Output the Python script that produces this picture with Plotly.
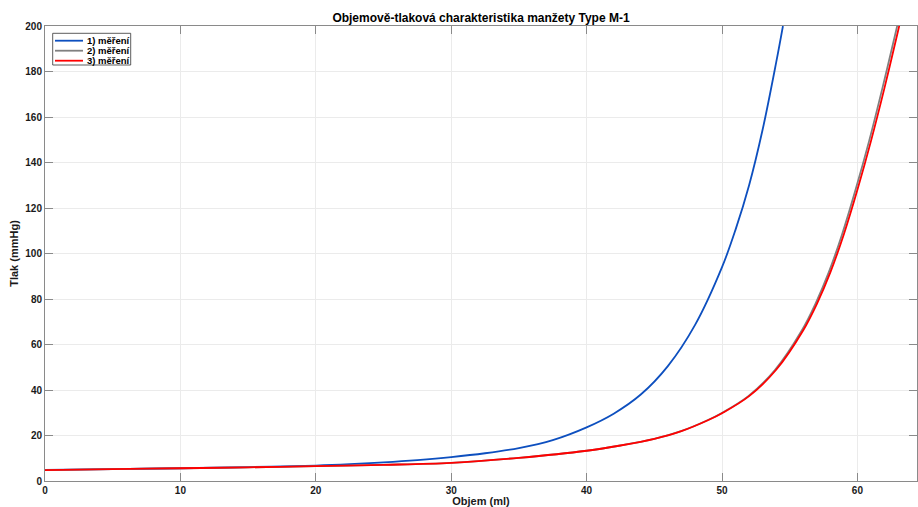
import plotly.graph_objects as go

# ---------------- data ----------------
vol_1 = [0, 5, 10, 15, 20, 22.5, 25, 27.5, 30, 32.5, 35, 37.5, 40, 42, 44, 46, 48, 50, 51, 52, 53, 54, 54.5]
p_1 = [4.9, 5.2, 5.6, 6.1, 6.8, 7.4, 8.2, 9.2, 10.5, 12.2, 14.5, 18.0, 23.6, 29.6, 38.0, 50.5, 68.5, 94.0, 110.5, 130.0, 154.5, 184.0, 200.0]

vol_2 = [0, 5, 10, 15, 20, 25, 30, 35, 40, 42.5, 45, 46.97, 48.96, 49.95, 51.94, 53.92, 55.9, 56.89, 57.88, 58.87, 59.86, 60.86, 61.85, 62.85, 62.95]
p_2 = [4.8, 5.2, 5.6, 6.0, 6.5, 7.1, 8.0, 10.2, 13.3, 15.6, 18.5, 21.9, 26.8, 29.8, 37.3, 48.9, 66.3, 77.8, 91.7, 108.5, 128.0, 149.4, 172.8, 197.8, 200.4]

vol_3 = [0, 5, 10, 15, 20, 25, 30, 35, 40, 42.5, 45, 47, 49, 50, 52, 54, 56, 57, 58, 59, 60, 61, 62, 63, 63.1]
p_3 = [4.8, 5.2, 5.6, 6.0, 6.5, 7.1, 8.0, 10.2, 13.3, 15.6, 18.5, 21.9, 26.8, 29.8, 37.3, 48.9, 66.3, 77.8, 91.7, 108.5, 128.0, 149.4, 172.8, 197.8, 200.4]

series_names = ["1) měření", "2) měření", "3) měření"]
series_colors = ["#0d4fbf", "#808080", "#ff0000"]

title_text = "Objemově-tlaková charakteristika manžety Type M-1"
x_title = "Objem (ml)"
y_title = "Tlak (mmHg)"
x_ticks = [0, 10, 20, 30, 40, 50, 60]
y_ticks = [0, 20, 40, 60, 80, 100, 120, 140, 160, 180, 200]

# ---------------- layout geometry ----------------
W, H = 918, 507
ML, MR, MT, MB = 45, 1, 26, 26
PW, PH = W - ML - MR, H - MT - MB

def fx(px):
    return (px - ML) / PW

def fy(py):
    return (H - MB - py) / PH

FONT = "Liberation Sans, Arial, Helvetica, sans-serif"

fig = go.Figure()
for xs, ys, name, col in zip([vol_1, vol_2, vol_3], [p_1, p_2, p_3], series_names, series_colors):
    fig.add_trace(go.Scatter(
        x=xs, y=ys, mode="lines", name=name, showlegend=False,
        line=dict(color=col, width=1.8, shape="spline", smoothing=1.0),
    ))

axis_common = dict(
    showline=True, linecolor="#8a8a8a", linewidth=1,
    mirror="ticks", ticks="inside", ticklen=8, tickwidth=1, tickcolor="#8a8a8a",
    showgrid=True, gridcolor="#ebebeb", gridwidth=1, zeroline=False,
    tickfont=dict(family=FONT, size=10, color="#1a1a1a", weight="bold"),
)

fig.update_xaxes(range=[0, 64.4], tickvals=x_ticks, **axis_common,
                 title=dict(text=x_title, standoff=2,
                            font=dict(family=FONT, size=11, color="#1a1a1a", weight="bold")))
fig.update_yaxes(range=[0, 200], tickvals=y_ticks, **axis_common,
                 title=dict(text=y_title, standoff=4,
                            font=dict(family=FONT, size=11, color="#1a1a1a", weight="bold")))

# manual legend (compact, as in the reference)
shapes = [dict(type="rect", xref="paper", yref="paper",
               x0=fx(52.7), x1=fx(130.7), y0=fy(65), y1=fy(33.3),
               line=dict(color="#333333", width=0.8), fillcolor="white", layer="above")]
annotations = []
for i, (name, col) in enumerate(zip(series_names, series_colors)):
    yy = 40.7 + 10 * i
    shapes.append(dict(type="line", xref="paper", yref="paper",
                       x0=fx(55), x1=fx(83), y0=fy(yy), y1=fy(yy),
                       line=dict(color=col, width=1.8), layer="above"))
    annotations.append(dict(xref="paper", yref="paper", x=fx(85), y=fy(yy),
                            xanchor="left", yanchor="middle", showarrow=False,
                            text=name,
                            font=dict(family=FONT, size=9.5, color="#000000", weight="bold")))

fig.update_layout(
    width=W, height=H,
    margin=dict(l=ML, r=MR, t=MT, b=MB, pad=0),
    paper_bgcolor="white", plot_bgcolor="white",
    font=dict(family=FONT, color="#1a1a1a"),
    title=dict(text=title_text, x=0.5, xref="paper", y=1 - 17.5 / H, yref="container",
               xanchor="center", yanchor="middle",
               font=dict(family=FONT, size=12, color="#000000", weight="bold")),
    shapes=shapes, annotations=annotations,
    showlegend=False,
)

fig.write_html("out.html")
